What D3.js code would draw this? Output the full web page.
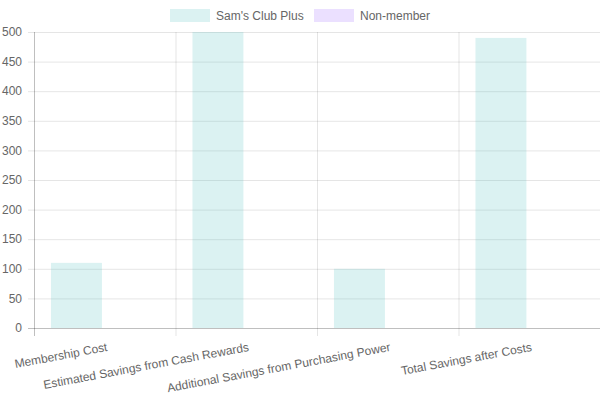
<!DOCTYPE html>
<html><head><meta charset="utf-8">
<script src="https://cdn.jsdelivr.net/npm/d3@7"></script>
<style>body{margin:0;background:#fff}svg{display:block}text{font-family:"Liberation Sans",Arial,sans-serif}</style>
</head><body><svg id="c" width="600" height="400"></svg>
<script>
const categories = ["Membership Cost","Estimated Savings from Cash Rewards","Additional Savings from Purchasing Power","Total Savings after Costs"];
const seriesNames = ["Sam's Club Plus","Non-member"];
const samsClubPlus = [110, 500, 100, 490];
const nonMember = [0, 0, 0, 0];
const yTicks = [0,50,100,150,200,250,300,350,400,450,500];
const fills = ["rgba(75,192,192,0.2)","rgba(153,102,255,0.2)"];

const svg = d3.select("#c");
const m = {l:34, r:600, t:32, b:328};
const x = d3.scaleBand().domain(categories).range([m.l, m.r]).paddingInner(0).paddingOuter(0);
const y = d3.scaleLinear().domain([0,500]).range([m.b, m.t]);
const series = [samsClubPlus, nonMember];

// grid
const grid = svg.append("g");
yTicks.forEach(t=>{
  grid.append("line").attr("x1",m.l-6).attr("x2",m.r).attr("y1",y(t)+0.5).attr("y2",y(t)+0.5)
    .attr("stroke", t===0 ? "rgba(0,0,0,0.25)" : "rgba(0,0,0,0.1)");
});
const vlines = categories.map(c=>x(c)).concat([m.r]);
vlines.forEach((vx,i)=>{
  grid.append("line").attr("x1",vx+0.5).attr("x2",vx+0.5).attr("y1",m.t).attr("y2",m.b+8)
    .attr("stroke", i===0 ? "rgba(0,0,0,0.25)" : "rgba(0,0,0,0.1)");
});

// bars
const inner = d3.scaleBand().domain(seriesNames).range([0, x.bandwidth()*0.8]);
series.forEach((vals,si)=>{
  svg.append("g").selectAll("rect").data(vals).join("rect")
    .attr("x",(d,i)=>x(categories[i]) + x.bandwidth()*0.1 + inner(seriesNames[si]) + inner.bandwidth()*0.05)
    .attr("width", inner.bandwidth()*0.9)
    .attr("y", d=>y(d))
    .attr("height", d=>m.b - y(d))
    .attr("fill", fills[si]);
});

// y labels
svg.append("g").selectAll("text").data(yTicks).join("text")
  .attr("x", 22).attr("y", d=>y(d)).attr("dy","0.35em").attr("text-anchor","end")
  .attr("font-size",12).attr("fill","#666").text(d=>d);

// x labels
svg.append("g").selectAll("text").data(categories).join("text")
  .attr("transform", d=>`translate(${x(d)+x.bandwidth()/2+1.5},${m.b+14}) rotate(-10.5)`)
  .attr("text-anchor","end").attr("dy","0.75em")
  .attr("font-size",12).attr("fill","#666").text(d=>d);

// legend
const leg = svg.append("g");
const legItems = [{name:seriesNames[0], x:170},{name:seriesNames[1], x:314}];
legItems.forEach((it,i)=>{
  leg.append("rect").attr("x",it.x).attr("y",9).attr("width",40).attr("height",13).attr("fill",fills[i]);
  leg.append("text").attr("x",it.x+46).attr("y",15.5).attr("dy","0.35em").attr("font-size",12)
    .attr("fill","#666").text(it.name);
});
</script></body></html>
